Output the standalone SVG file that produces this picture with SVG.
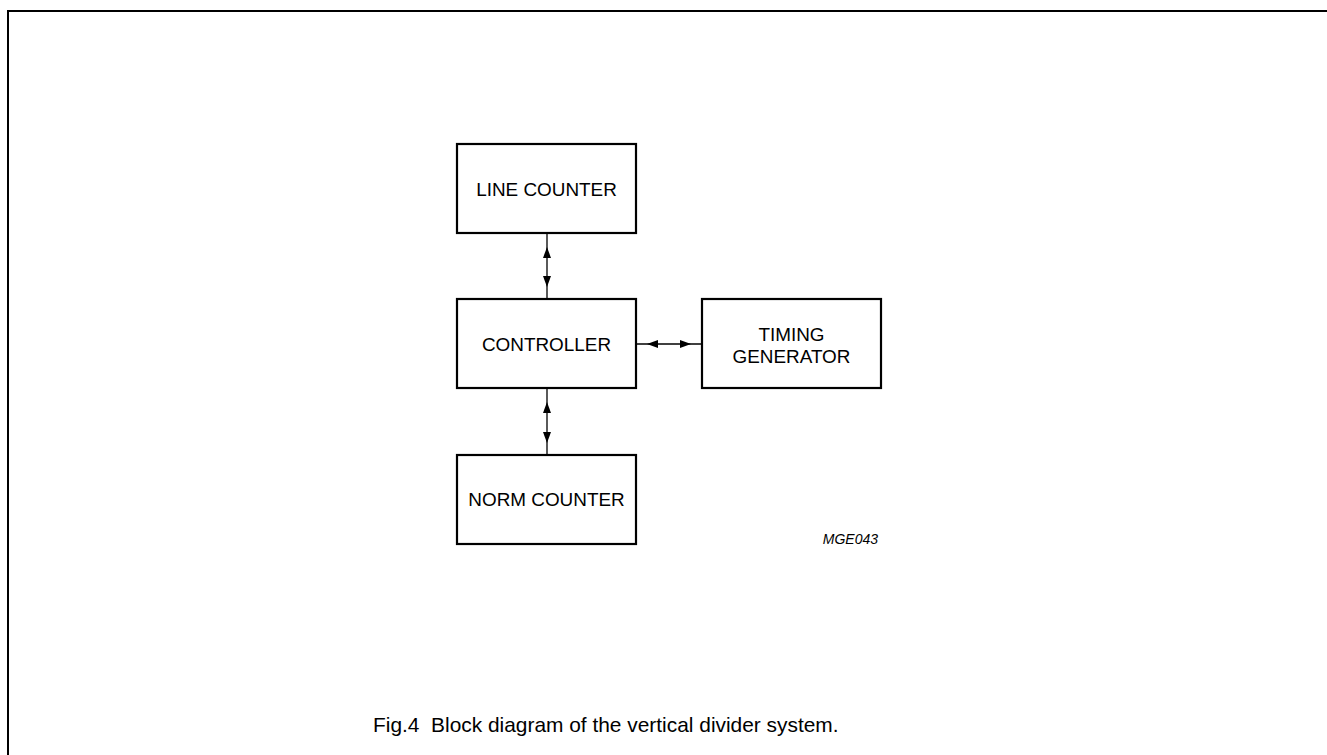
<svg xmlns="http://www.w3.org/2000/svg" width="1327" height="755" viewBox="0 0 1327 755">
<defs>
<style>
.box{fill:#fff;stroke:#000;stroke-width:2.2}
.lbl{font-family:"Liberation Sans",Arial,sans-serif;font-size:18.9px;fill:#000;text-anchor:middle}
.conn{stroke:#000;stroke-width:1.3;fill:none}
.ah{fill:#000}
</style>
</defs>
<rect width="1327" height="755" fill="#fff"/>
<path d="M8,755 V11 H1327" fill="none" stroke="#000" stroke-width="2"/>
<g id="line-counter"><rect class="box" x="457" y="144" width="179" height="89"/><text class="lbl" x="546.5" y="196">LINE COUNTER</text></g>
<g id="controller"><rect class="box" x="457" y="299" width="179" height="89"/><text class="lbl" x="546.5" y="351">CONTROLLER</text></g>
<g id="timing-generator"><rect class="box" x="702" y="299" width="179" height="89"/><text class="lbl" x="791.5" y="341">TIMING</text><text class="lbl" x="791.5" y="363">GENERATOR</text></g>
<g id="norm-counter"><rect class="box" x="457" y="455" width="179" height="89"/><text class="lbl" x="546.5" y="506">NORM COUNTER</text></g>
<g id="connectors">
<path class="conn" d="M547,233 V299"/>
<path class="ah" d="M547,247 L543,258 L551,258 Z"/>
<path class="ah" d="M547,287 L543,276 L551,276 Z"/>
<path class="conn" d="M636,344 H702"/>
<path class="ah" d="M647,344 L658,340 L658,348 Z"/>
<path class="ah" d="M691,344 L680,340 L680,348 Z"/>
<path class="conn" d="M547,388 V455"/>
<path class="ah" d="M547,402 L543,413 L551,413 Z"/>
<path class="ah" d="M547,443 L543,432 L551,432 Z"/>
</g>
<text x="878" y="544" font-family="Liberation Sans,Arial,sans-serif" font-size="14" font-style="italic" text-anchor="end">MGE043</text>
<text x="373" y="732" font-family="Liberation Sans,Arial,sans-serif" font-size="20.9" xml:space="preserve">Fig.4  Block diagram of the vertical divider system.</text>
</svg>
